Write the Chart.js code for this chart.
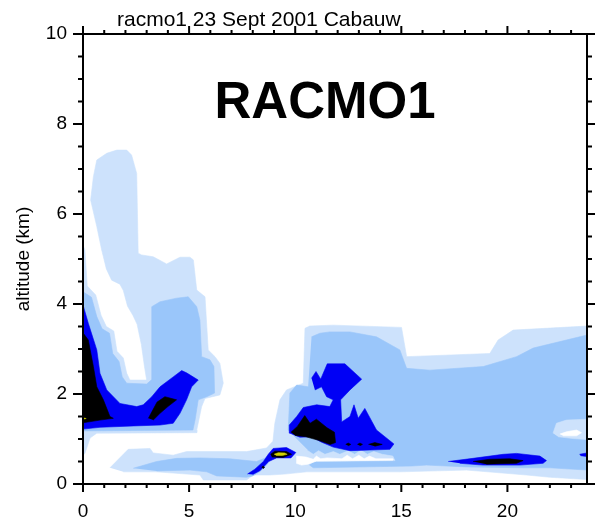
<!DOCTYPE html>
<html>
<head>
<meta charset="utf-8">
<script src="https://cdn.jsdelivr.net/npm/chart.js"></script>
<style>
  html, body { margin: 0; padding: 0; background: #fff; }
</style>
</head>
<body>
<canvas id="chart" width="596" height="522"></canvas>
<script>
// axis ticks
const xTicks = [0, 5, 10, 15, 20];
const yTicks = [0, 2, 4, 6, 8, 10];
const xMax = 23.75, yMax = 10;
const xMinorStep = 1, yMinorStep = 0.5;

const titleText = 'racmo1 23 Sept 2001 Cabauw';
const panelLabel = 'RACMO1';
const yTitle = 'altitude (km)';

// contour outlines, [hour, km]
const lightLeft = [[0,5.31],[0.09,5.20],[0.2,4.4],[0.6,4.2],[0.85,3.75],[1.1,3.5],[1.45,3.4],[1.6,2.95],[1.9,2.8],[2.06,2.46],[2.21,2.31],[3.0,2.31],[2.9,2.6],[2.75,3.1],[2.55,3.55],[2.35,3.75],[2.1,3.95],[1.9,4.3],[1.74,4.44],[1.35,4.53],[1.1,4.78],[0.96,5.05],[0.88,5.2],[0.65,5.72],[0.36,6.31],[0.49,6.83],[0.65,7.2],[1.12,7.35],[1.59,7.42],[2.06,7.42],[2.29,7.31],[2.53,6.9],[2.6,5.13],[2.76,5.09],[3.31,5.05],[3.94,4.89],[4.57,5.04],[5.04,5.04],[5.2,4.98],[5.36,4.31],[5.75,4.16],[5.9,2.98],[6.22,2.83],[6.45,2.68],[6.61,2.24],[6.45,1.98],[5.75,1.9],[5.59,1.72],[5.36,1.2],[5.36,1.14],[0.65,1.13],[0.33,1.02],[0.09,0.68],[0,0.64]];
const lightLow = [[1.27,0.36],[2.13,0.77],[3.16,0.79],[3.31,0.69],[4.25,0.64],[4.88,0.72],[7.71,0.72],[8.65,0.8],[8.95,0.95],[9.04,1.35],[9.28,1.87],[9.59,2.09],[10.38,2.24],[10.46,3.46],[10.69,3.51],[11.79,3.53],[15.01,3.48],[15.25,2.83],[19.17,2.9],[19.56,3.2],[20.27,3.42],[23.75,3.51],[23.75,0.1],[22.0,0.15],[20.9,0.2],[18.07,0.31],[14.93,0.27],[10.54,0.27],[9.5,0.22],[8.8,0.2],[8.02,0.2],[7.71,0.09],[5.67,0.09],[5.51,0.2],[3.47,0.27],[1.9,0.27]];
const mediumLeft = [[0,4.27],[0.4,4.15],[0.65,3.72],[0.9,3.45],[1.25,3.35],[1.4,2.9],[1.7,2.72],[1.85,2.38],[2.06,2.24],[3.0,2.22],[3.24,2.32],[3.24,3.94],[3.63,4.05],[4.41,4.13],[4.96,4.16],[5.36,3.94],[5.51,3.64],[5.59,2.83],[5.98,2.76],[6.17,2.61],[6.2,2.02],[5.83,1.94],[5.43,1.87],[5.28,1.42],[5.18,1.2],[0,1.18]];
const mediumRight = [[10.77,3.27],[11.16,3.35],[11.63,3.38],[12.58,3.38],[13.83,3.27],[14.93,2.98],[15.25,2.57],[16.34,2.53],[18.86,2.61],[20.43,2.83],[21.21,3.02],[23.75,3.31],[23.75,0.31],[22.0,0.36],[20.74,0.36],[18.07,0.38],[16.19,0.42],[15.5,0.4],[10.85,0.36],[10.6,0.45],[10.6,0.76],[10.22,0.94],[9.67,1.2],[9.75,2.02],[10.07,2.2],[10.61,2.16]];
const mediumLow = [[2.37,0.35],[3.47,0.5],[4.41,0.57],[5.51,0.58],[6.92,0.56],[8.18,0.5],[8.6,0.58],[8.9,0.68],[8.7,0.45],[8.35,0.28],[8.0,0.18],[7.7,0.15],[6.3,0.18],[5.83,0.27],[5.04,0.31],[3.47,0.29]];
const lightTeeth = [[10.0,0.66],[10.3,0.68],[10.6,0.74],[10.85,0.66],[11.1,0.74],[11.4,0.66],[11.8,0.72],[12.1,0.66],[12.5,0.74],[12.8,0.66],[13.1,0.75],[13.4,0.66],[13.7,0.72],[14.1,0.66],[14.6,0.62],[14.7,0.52],[10.9,0.5],[10.6,0.42],[10.3,0.36],[10.0,0.4]];
const whiteBand = [[10.05,0.62],[10.5,0.6],[10.85,0.55],[11.0,0.62],[11.2,0.56],[11.5,0.58],[12.2,0.56],[12.45,0.64],[12.7,0.56],[13.0,0.64],[13.25,0.56],[13.5,0.62],[13.8,0.56],[14.6,0.56],[14.6,0.53],[11.0,0.51],[10.6,0.44],[10.3,0.42],[10.05,0.46]];
const lightRing = [[22.15,1.13],[22.31,1.35],[22.78,1.42],[23.75,1.44],[23.75,0.99],[23.1,1.01],[22.39,1.05]];
const whiteCore = [[22.47,1.11],[22.78,1.16],[23.26,1.2],[23.49,1.14],[23.26,1.07],[22.62,1.07]];
const blueLeft = [[0,3.98],[0.25,3.57],[0.65,2.98],[0.8,2.46],[1.12,2.09],[1.74,1.79],[2.53,1.72],[2.84,1.76],[3.24,1.94],[3.63,2.16],[4.25,2.38],[4.65,2.52],[4.88,2.47],[5.43,2.31],[5.12,2.16],[4.88,1.87],[4.57,1.57],[4.25,1.35],[3.63,1.31],[2.37,1.29],[0.8,1.26],[0,1.22]];
const blueRight = [[10.77,2.35],[10.98,2.5],[11.2,2.33],[11.51,2.67],[12.34,2.67],[13.13,2.33],[12.58,2.09],[12.14,1.87],[12.19,1.38],[12.58,1.5],[12.77,1.76],[12.97,1.46],[13.28,1.68],[13.83,1.2],[14.65,0.89],[14.46,0.77],[12.58,0.74],[11.79,0.82],[11.24,0.93],[10.77,1.05],[10.22,1.04],[9.75,1.13],[9.72,1.31],[10.07,1.5],[10.38,1.7],[11.01,1.76],[11.63,1.72],[11.79,1.87],[11.48,1.94],[11.24,2.16],[10.93,2.09]];
const blueBlob = [[7.75,0.22],[8.1,0.33],[8.5,0.5],[8.73,0.66],[8.96,0.79],[9.59,0.81],[10.03,0.7],[9.8,0.58],[9.12,0.58],[8.75,0.5],[8.35,0.3],[8.0,0.21]];
const blueEllipse = [[17.21,0.5],[18.38,0.57],[19.8,0.66],[20.43,0.68],[21.53,0.62],[21.84,0.52],[21.68,0.46],[20.58,0.42],[18.86,0.42],[17.76,0.46]];
const blueEdge = [[23.4,0.66],[23.75,0.69],[23.75,0.61],[23.45,0.63]];
const blackLeft = [[0,3.36],[0.25,3.2],[0.49,2.61],[0.65,2.16],[0.96,1.87],[1.27,1.5],[1.43,1.46],[0.8,1.42],[0,1.36]];
const blackMid = [[3.08,1.46],[3.49,1.82],[3.86,1.94],[4.41,1.87],[4.0,1.72],[3.63,1.57],[3.31,1.42]];
const blackRight = [[9.8,1.15],[10.1,1.28],[10.45,1.52],[10.7,1.35],[11.0,1.44],[11.5,1.25],[11.85,1.15],[11.9,0.92],[11.65,0.88],[11.1,0.97],[10.5,1.05],[10.0,1.08]];
const blackDot1 = [[12.38,0.88],[12.5,0.91],[12.62,0.88],[12.5,0.85]];
const blackDot2 = [[12.93,0.88],[13.05,0.91],[13.17,0.88],[13.05,0.85]];
const blackDot3 = [[13.45,0.88],[13.75,0.92],[14.1,0.88],[13.75,0.84]];
const blackBlob = [[8.84,0.66],[9.04,0.73],[9.59,0.72],[9.83,0.66],[9.43,0.59],[8.9,0.6]];
const blackSpot = [[8.42,0.37],[8.49,0.4],[8.56,0.37],[8.49,0.34]];
const blackEllipse = [[18.38,0.5],[19.17,0.55],[20.11,0.56],[20.74,0.52],[20.43,0.46],[19.01,0.44]];
const yellowSpot = [[9.0,0.66],[9.2,0.695],[9.5,0.69],[9.62,0.66],[9.4,0.635],[9.1,0.635]];
const yellowLeft = [[0,1.47],[0.15,1.455],[0,1.44]];

const LIGHT = '#cde2fc', MEDIUM = '#9ac6fa', BLUE = '#0000f5', BLACK = '#000000', YELLOW = '#d2d200', WHITE = '#ffffff';

// drawing order, back to front
const layers = [
  [lightLeft, LIGHT], [lightLow, LIGHT],
  [mediumLeft, MEDIUM], [mediumRight, MEDIUM], [mediumLow, MEDIUM],
  [lightTeeth, LIGHT], [whiteBand, WHITE], [lightRing, LIGHT], [whiteCore, WHITE],
  [blueLeft, BLUE], [blueRight, BLUE], [blueBlob, BLUE], [blueEllipse, BLUE], [blueEdge, BLUE],
  [blackLeft, BLACK], [blackMid, BLACK], [blackRight, BLACK], [blackDot1, BLACK], [blackDot2, BLACK],
  [blackDot3, BLACK], [blackBlob, BLACK], [blackSpot, BLACK], [blackEllipse, BLACK],
  [yellowSpot, YELLOW], [yellowLeft, YELLOW]
];

const datasets = layers.map(([pts, color], i) => ({
  data: pts.map(([x, y]) => ({x, y})),
  showLine: true,
  fill: 'shape',
  backgroundColor: color,
  borderColor: color,
  borderWidth: 0.6,
  pointRadius: 0,
  tension: 0,
  order: layers.length - i
}));

const frame = {
  id: 'frame',
  afterDraw(chart) {
    const {ctx, chartArea: a, scales: {x, y}} = chart;
    ctx.save();
    ctx.strokeStyle = '#000';
    ctx.lineWidth = 2;
    ctx.strokeRect(a.left, a.top, a.right - a.left, a.bottom - a.top);
    ctx.beginPath();
    for (let v = 0; v <= xMax; v += xMinorStep) {
      const px = x.getPixelForValue(v);
      const len = v % 5 === 0 ? 8 : 4;
      ctx.moveTo(px, a.bottom); ctx.lineTo(px, a.bottom + len);
      ctx.moveTo(px, a.top); ctx.lineTo(px, a.top - len);
    }
    for (let v = 0; v <= yMax; v += yMinorStep) {
      const py = y.getPixelForValue(v);
      ctx.moveTo(a.left, py); ctx.lineTo(a.left - (v % 2 === 0 ? 10 : 5), py);
      ctx.moveTo(a.right, py); ctx.lineTo(a.right + (v % 2 === 0 ? 8 : 5), py);
    }
    ctx.stroke();

    ctx.fillStyle = '#000';
    ctx.textBaseline = 'alphabetic';
    ctx.textAlign = 'left';
    ctx.font = '21px "Liberation Sans", Arial, sans-serif';
    ctx.fillText(titleText, 117, 26);
    ctx.textAlign = 'center';
    ctx.font = 'bold 51px "Liberation Sans", Arial, sans-serif';
    ctx.fillText(panelLabel, 325, 118);
    ctx.restore();
  }
};

new Chart(document.getElementById('chart'), {
  type: 'scatter',
  data: { datasets },
  options: {
    responsive: false,
    animation: false,
    devicePixelRatio: 1,
    layout: { padding: { top: 34, right: 9, left: 0, bottom: 0 } },
    plugins: { legend: { display: false }, tooltip: { enabled: false } },
    scales: {
      x: {
        type: 'linear', min: 0, max: xMax,
        afterFit: s => { s.height = 38; },
        afterBuildTicks: s => { s.ticks = xTicks.map(value => ({value})); },
        grid: { display: false, drawTicks: false },
        border: { display: false },
        ticks: { padding: 16, color: '#000', maxRotation: 0, font: { family: '"Liberation Sans", Arial, sans-serif', size: 19 } }
      },
      y: {
        type: 'linear', min: 0, max: yMax,
        afterFit: s => { s.width = 83; },
        afterBuildTicks: s => { s.ticks = yTicks.map(value => ({value})); },
        grid: { display: false, drawTicks: false },
        border: { display: false },
        ticks: { padding: 16, color: '#000', font: { family: '"Liberation Sans", Arial, sans-serif', size: 19 } },
        title: { display: true, text: yTitle, color: '#000', padding: { top: 12.5 }, font: { family: '"Liberation Sans", Arial, sans-serif', size: 19 } }
      }
    }
  },
  plugins: [frame]
});
</script>
</body>
</html>
